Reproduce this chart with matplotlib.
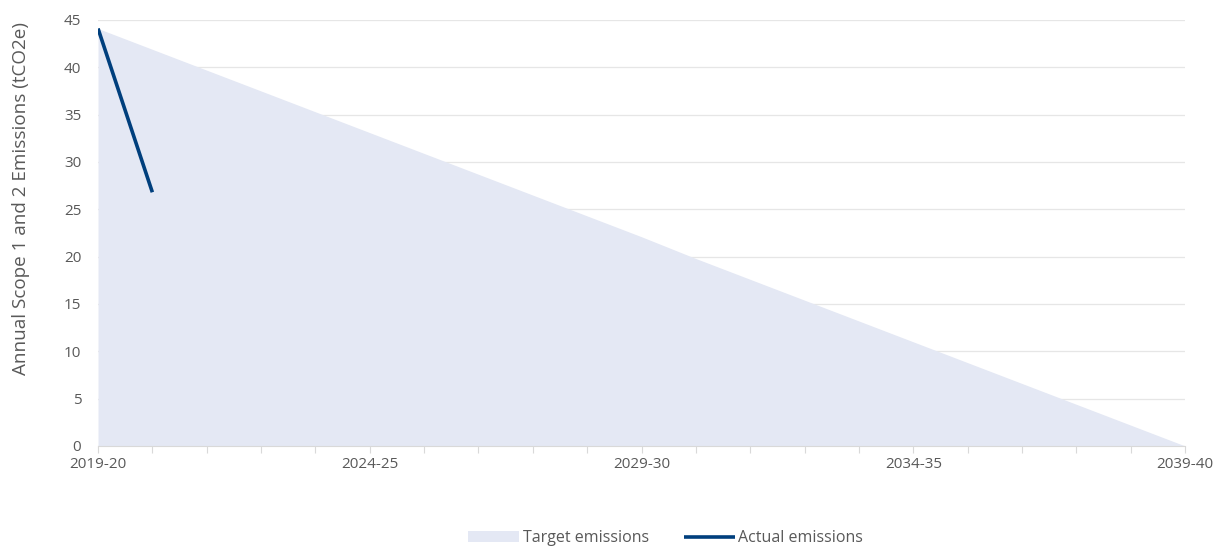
import matplotlib.pyplot as plt
import numpy as np

years = ['2019-20', '2020-21', '2021-22', '2022-23', '2023-24', '2024-25', '2025-26',
         '2026-27', '2027-28', '2028-29', '2029-30', '2030-31', '2031-32', '2032-33',
         '2033-34', '2034-35', '2035-36', '2036-37', '2037-38', '2038-39', '2039-40']
target = [44.1, 41.9, 39.7, 37.5, 35.3, 33.1, 30.9, 28.7, 26.5, 24.3, 22.1,
          19.8, 17.6, 15.4, 13.2, 11.0, 8.8, 6.6, 4.4, 2.2, 0.0]
actual = [44.1, 26.8]

plt.rcParams['font.family'] = ['Open Sans', 'DejaVu Sans']
text_col = '#595959'

fig = plt.figure(figsize=(12.19, 5.46), dpi=100)
ax = fig.add_axes([0.0804, 0.1832, 0.8918, 0.7802])

x = np.arange(len(years))
ax.fill_between(x, target, 0, color='#E4E8F4', linewidth=0, label='Target emissions')
ax.plot(x[:len(actual)], actual, color='#003F7D', linewidth=2.6,
        solid_capstyle='butt', label='Actual emissions')

ax.set_xlim(0, len(years) - 1)
ax.set_ylim(0, 45)
ax.set_yticks(np.arange(0, 46, 5))
ax.set_xticks(x)
ax.set_xticklabels([y if i % 5 == 0 else '' for i, y in enumerate(years)])

ax.grid(axis='y', color='#E6E6E6', linewidth=0.9)
ax.set_axisbelow(True)
for s in ['top', 'right', 'left']:
    ax.spines[s].set_visible(False)
ax.spines['bottom'].set_color('#D9D9D9')
ax.tick_params(axis='y', length=0, labelsize=11, labelcolor=text_col, pad=12)
ax.tick_params(axis='x', length=5, color='#D9D9D9', labelsize=11,
               labelcolor=text_col, pad=3)

ax.set_ylabel('Annual Scope 1 and 2 Emissions (tCO2e)', fontsize=13.6,
              color=text_col)
ax.yaxis.set_label_coords(-0.063, 0.58)

fig.legend(loc='center', bbox_to_anchor=(0.546, 0.014), ncol=2, frameon=False,
           fontsize=11.5, labelcolor=text_col, handlelength=3.2,
           handletextpad=0.2, columnspacing=2.2)

fig.savefig('out.png', dpi=100)
